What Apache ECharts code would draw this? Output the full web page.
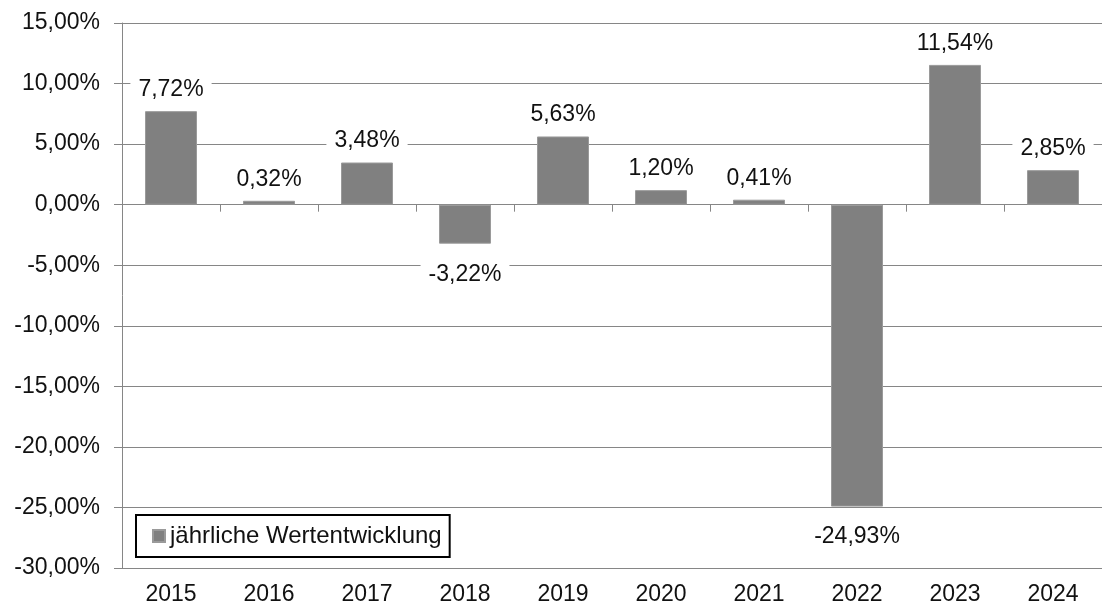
<!DOCTYPE html>
<html lang="de">
<head>
    <meta charset="UTF-8">
    <title>Wertentwicklung</title>
    <style>
        html, body { margin: 0; padding: 0; background: #fff; }
        #chartmain { width: 1102px; height: 608px; }
    </style>
</head>
<body>
    <div id="chartmain"></div>
    <script src="https://cdn.jsdelivr.net/npm/echarts@6/dist/echarts.min.js"></script>
    <script type="text/javascript">
        var years = ['2015', '2016', '2017', '2018', '2019', '2020', '2021', '2022', '2023', '2024'];
        var returns = [7.72, 0.32, 3.48, -3.22, 5.63, 1.20, 0.41, -24.93, 11.54, 2.85];
        var seriesName = 'jährliche Wertentwicklung';
        var yTicks = [-30, -25, -20, -15, -10, -5, 0, 5, 10, 15];

        var font = 'Liberation Sans, Arial, sans-serif';
        var fmt = function (v) {
            return v.toFixed(2).replace('.', ',') + '%';
        };

        // negative bars get their label below the bar
        var barData = returns.map(function (v) {
            return {
                value: v,
                label: v < 0 ? { position: 'bottom', distance: 17 } : { position: 'top', distance: 8 }
            };
        });

        var mychart = echarts.init(document.getElementById('chartmain'));
        var option = {
            animation: false,
            textStyle: { fontFamily: font },
            grid: {
                left: 122,
                top: 23,
                width: 990,
                height: 545
            },
            legend: {
                left: 136,
                top: 515,
                data: [seriesName],
                icon: 'rect',
                itemWidth: 12,
                itemHeight: 12,
                padding: [9, 8, 9, 16],
                borderColor: '#000',
                borderWidth: 2,
                backgroundColor: '#fff',
                textStyle: { fontSize: 24, color: '#111', fontFamily: font }
            },
            xAxis: [{
                type: 'category',
                data: years,
                position: 'bottom',
                axisLine: { show: false, onZero: false },
                axisTick: { show: false },
                axisLabel: { fontSize: 23, color: '#111', margin: 15, fontFamily: font },
                splitLine: { show: false }
            }, {
                // zero line with ticks between the years
                type: 'category',
                data: years,
                position: 'top',
                axisLine: { show: true, onZero: true, lineStyle: { color: '#868686', width: 1 } },
                axisTick: { show: true, inside: true, length: 7, lineStyle: { color: '#868686' } },
                axisLabel: { show: false },
                splitLine: { show: false }
            }],
            yAxis: {
                type: 'value',
                min: yTicks[0],
                max: yTicks[yTicks.length - 1],
                interval: 5,
                axisLine: { show: true, lineStyle: { color: '#868686', width: 1 } },
                axisTick: { show: true, length: 8, lineStyle: { color: '#868686' } },
                axisLabel: {
                    fontSize: 23,
                    color: '#111',
                    margin: 22,
                    fontFamily: font,
                    formatter: fmt
                },
                splitLine: { show: true, lineStyle: { color: '#868686', width: 1 } }
            },
            series: [{
                name: seriesName,
                type: 'bar',
                xAxisIndex: 0,
                barWidth: 52,
                itemStyle: { color: '#808080', borderColor: '#9a9a9a', borderWidth: 1 },
                label: {
                    show: true,
                    fontSize: 23,
                    color: '#111',
                    fontFamily: font,
                    backgroundColor: '#fff',
                    padding: [2, 8],
                    formatter: function (p) { return fmt(p.value); }
                },
                data: barData
            }]
        };
        mychart.setOption(option);
    </script>
</body>
</html>
